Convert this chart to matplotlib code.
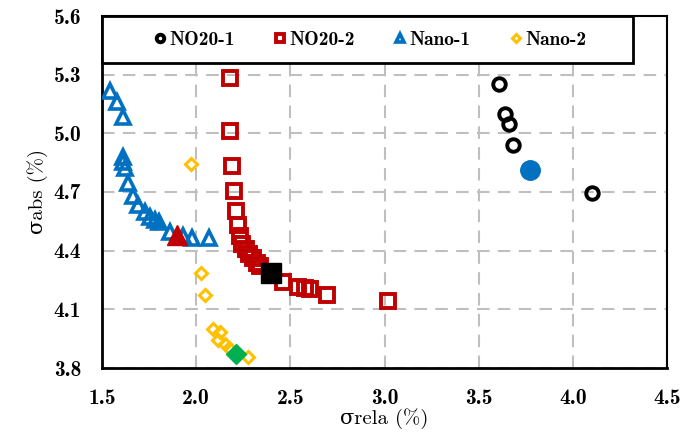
import matplotlib
matplotlib.use('Agg')
import matplotlib.pyplot as plt
from matplotlib.patches import Rectangle

plt.rcParams['mathtext.fontset'] = 'cm'
plt.rcParams['axes.unicode_minus'] = False

# NO20-1 (open black circles)
no1_x = [3.61, 3.64, 3.66, 3.68, 4.10]
no1_y = [5.25, 5.10, 5.05, 4.94, 4.695]
no1_best = (3.77, 4.81)

# NO20-2 (open red squares)
no2_x = [2.18, 2.18, 2.19, 2.20, 2.21, 2.22, 2.233, 2.246, 2.265, 2.281, 2.30, 2.323, 2.34,
         2.463, 2.542, 2.578, 2.605, 2.693, 3.02]
no2_y = [5.285, 5.014, 4.833, 4.705, 4.605, 4.531, 4.475, 4.434, 4.406, 4.381, 4.361, 4.337, 4.32,
         4.242, 4.216, 4.208, 4.203, 4.174, 4.145]
no2_best = (2.397, 4.288)

# Nano-1 (open blue triangles)
n1_x = [1.542, 1.578, 1.613, 1.613, 1.613, 1.622, 1.64, 1.666, 1.693, 1.728, 1.755, 1.781, 1.80,
        1.861, 1.932, 1.976, 2.07]
n1_y = [5.218, 5.162, 5.082, 4.881, 4.855, 4.821, 4.745, 4.68, 4.634, 4.60, 4.574, 4.557, 4.548,
        4.497, 4.475, 4.464, 4.464]
n1_best = (1.897, 4.48)

# Nano-2 (open gold diamonds)
n2_x = [1.973, 2.024, 2.047, 2.091, 2.127, 2.118, 2.153, 2.176, 2.277]
n2_y = [4.843, 4.288, 4.174, 4.0, 3.986, 3.944, 3.923, 3.901, 3.858]
n2_best = (2.212, 3.872)

xticks = [1.5, 2.0, 2.5, 3.0, 3.5, 4.0, 4.5]
yticks = [3.8, 4.1, 4.4, 4.7, 5.0, 5.3, 5.6]

fig = plt.figure(figsize=(6.99, 4.32), dpi=100)
ax = fig.add_axes([102/699, 1-368/432, 565/699, 352/432])

ax.plot(no1_x, no1_y, 'o', ls='none', ms=9, mfc='none', mec='black', mew=2.8, label='NO20-1', zorder=3)
ax.plot(no2_x, no2_y, 's', ls='none', ms=10, mfc='none', mec='#C00000', mew=2.8, label='NO20-2', zorder=3)
ax.plot(n1_x, n1_y, '^', ls='none', ms=10, mfc='none', mec='#0070C0', mew=2.6, label='Nano-1', zorder=3)
ax.plot(n2_x, n2_y, 'D', ls='none', ms=6.5, mfc='none', mec='#FFC000', mew=2.2, label='Nano-2', zorder=3)

ax.plot(*no1_best, 'o', ms=14, color='#0070C0', zorder=4)
ax.plot(*no2_best, 's', ms=14, color='black', zorder=4)
ax.plot(*n1_best, '^', ms=14, color='#C00000', zorder=4)
ax.plot(*n2_best, 'D', ms=10, color='#00B050', zorder=4)

ax.set_xlim(1.5, 4.5)
ax.set_ylim(3.8, 5.6)
ax.set_xticks(xticks)
ax.set_yticks(yticks)
ax.set_xticklabels(['%.1f' % v for v in xticks], family='cmb10', fontsize=15.5)
ax.set_yticklabels(['%.1f' % v for v in yticks], family='cmb10', fontsize=15.5)
ax.tick_params(length=0, pad=15)

ax.grid(True, color='#BFBFBF', ls=(0, (6, 4)), lw=1.5, zorder=0)
ax.set_axisbelow(True)
for s in ax.spines.values():
    s.set_linewidth(1.5)
ax.spines['left'].set_linewidth(2)
ax.spines['bottom'].set_linewidth(2)

ax.set_xlabel('σrela (%)', family=['cmr10', 'DejaVu Serif'], fontsize=15, labelpad=0)
ax.set_ylabel('σabs (%)', family=['cmr10', 'DejaVu Serif'], fontsize=15, labelpad=4)

# legend box
box = Rectangle((0, 0.866), 0.94, 0.134, transform=ax.transAxes, facecolor='white',
                edgecolor='black', lw=2, zorder=5, clip_on=False)
ax.add_patch(box)
leg = ax.legend(loc='center', bbox_to_anchor=(0.475, 0.933), ncol=4,
                prop={'family': 'cmb10', 'size': 14}, markerscale=0.6, handlelength=0.6,
                handletextpad=0.2, columnspacing=2.0, frameon=False, borderaxespad=0)
leg.set_zorder(6)

fig.savefig('out.png', dpi=100)
